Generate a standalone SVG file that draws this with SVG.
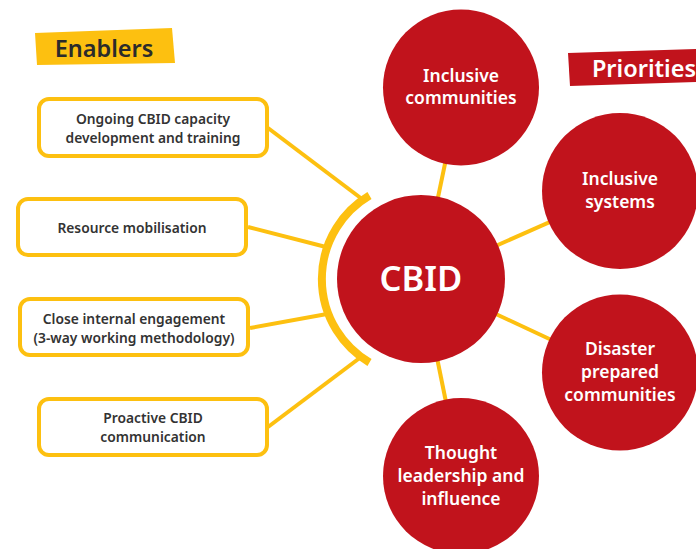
<svg xmlns="http://www.w3.org/2000/svg" width="696" height="549" viewBox="0 0 696 549">
<style>
.link{stroke:#FDC010;stroke-width:4;fill:none}
.box{fill:#fff;stroke:#FDC010;stroke-width:4}
.et{font-family:"Noto Sans","Open Sans",sans-serif;font-weight:600;font-size:13.8px;fill:#333;text-anchor:middle}
.pc{fill:#C1131C}
.pt{font-family:"Noto Sans","Open Sans",sans-serif;font-weight:600;font-size:17.5px;fill:#fff;text-anchor:middle}
</style>
<rect width="696" height="549" fill="#fff"/>
<g id="connectors">
<line class="link" x1="421" y1="279" x2="461" y2="87"/>
<line class="link" x1="421" y1="279" x2="620" y2="191"/>
<line class="link" x1="421" y1="279" x2="620" y2="372"/>
<line class="link" x1="421" y1="279" x2="461" y2="476"/>
<line class="link" x1="268" y1="128" x2="362" y2="199"/>
<line class="link" x1="248" y1="227" x2="326" y2="247"/>
<line class="link" x1="250" y1="328" x2="327" y2="314"/>
<line class="link" x1="268" y1="427" x2="361" y2="357"/>
<path d="M369.5 195.5 A97 97 0 0 0 369.5 362.5" fill="none" stroke="#FDC010" stroke-width="8"/>
</g>
<g id="enablers-label">
<polygon points="35,33 172,28 175,63 37,65" fill="#FDC010"/>
<text x="104" y="57" font-family="Noto Sans, Open Sans, sans-serif" font-weight="600" font-size="23.5" fill="#2b2b2b" text-anchor="middle">Enablers</text>
</g>
<g id="priorities-label">
<polygon points="568,53 696,49 696,82 570,86" fill="#C1131C"/>
<text x="644" y="77" font-family="Noto Sans, Open Sans, sans-serif" font-weight="600" font-size="23.5" fill="#fff" text-anchor="middle">Priorities</text>
</g>
<g id="e1">
<rect class="box" x="39" y="99" width="228" height="57" rx="10"/>
<text class="et" x="153" y="124">Ongoing CBID capacity</text>
<text class="et" x="153" y="143">development and training</text>
</g>
<g id="e2">
<rect class="box" x="18" y="199" width="228" height="56" rx="10"/>
<text class="et" x="132" y="233">Resource mobilisation</text>
</g>
<g id="e3">
<rect class="box" x="20" y="299" width="228" height="56" rx="10"/>
<text class="et" x="134" y="324">Close internal engagement</text>
<text class="et" x="134" y="343">(3-way working methodology)</text>
</g>
<g id="e4">
<rect class="box" x="39" y="399" width="228" height="56" rx="10"/>
<text class="et" x="153" y="423">Proactive CBID</text>
<text class="et" x="153" y="442">communication</text>
</g>
<g id="cbid">
<circle class="pc" cx="421" cy="279" r="84"/>
<text x="421" y="291" font-family="Noto Sans, Open Sans, sans-serif" font-weight="600" font-size="34.5" fill="#fff" text-anchor="middle">CBID</text>
</g>
<g id="p1">
<circle class="pc" cx="461" cy="87.5" r="78"/>
<text class="pt" x="461" y="82">Inclusive</text>
<text class="pt" x="461" y="104">communities</text>
</g>
<g id="p2">
<circle class="pc" cx="620" cy="191" r="78"/>
<text class="pt" x="620" y="185">Inclusive</text>
<text class="pt" x="620" y="208">systems</text>
</g>
<g id="p3">
<circle class="pc" cx="620" cy="372.5" r="78"/>
<text class="pt" x="620" y="355">Disaster</text>
<text class="pt" x="620" y="378">prepared</text>
<text class="pt" x="620" y="401">communities</text>
</g>
<g id="p4">
<circle class="pc" cx="461" cy="476" r="78"/>
<text class="pt" x="461" y="459">Thought</text>
<text class="pt" x="461" y="482">leadership and</text>
<text class="pt" x="461" y="505">influence</text>
</g>
</svg>
